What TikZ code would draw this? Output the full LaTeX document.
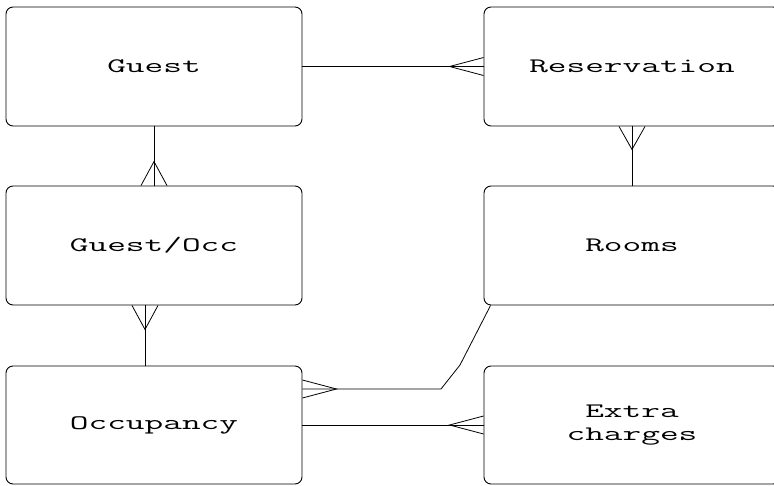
\documentclass[tikz,border=0pt]{standalone}
\usepackage{fontspec}
\newfontfamily\boxfont[FakeStretch=1.76]{Latin Modern Mono}
\begin{document}
\begin{tikzpicture}[x=1pt,y=-1pt,
  entity/.style={draw, rounded corners=7pt, line width=0.9pt, minimum width=296pt,
    minimum height=119pt, inner sep=0pt, align=center,
    font=\boxfont\fontsize{20.6}{23.3}\selectfont},
  rel/.style={line width=0.8pt}]
\clip (0,0) rectangle (774,485);
\fill[white] (0,0) rectangle (774,485);
\node[entity] (guest) at (154,66.5) {Guest};
\node[entity] (res) at (632,66.5) {Reservation};
\node[entity] (go) at (154,245.5) {Guest/Occ};
\node[entity] (rooms) at (632,245.5) {Rooms};
\node[entity, minimum height=118pt] (occ) at (154,425) {Occupancy};
\node[entity, minimum height=118pt] (ext) at (632,425) {Extra\\charges};
% Guest - Reservation
\draw[rel] (guest.east) -- (res.west);
\draw[rel] ([yshift=9pt]res.west) -- ([xshift=-34pt]res.west) -- ([yshift=-9pt]res.west);
% Guest - Guest/Occ
\draw[rel] (guest.south) -- (go.north);
\draw[rel] ([xshift=-13pt]go.north) -- ([yshift=24pt]go.north) -- ([xshift=13pt]go.north);
% Guest/Occ - Occupancy
\draw[rel] ([xshift=-9pt]go.south) -- ([xshift=-9pt]occ.north);
\draw[rel] ([xshift=-22pt]go.south) -- ([xshift=-9pt,yshift=-24pt]go.south) -- ([xshift=4pt]go.south);
% Reservation - Rooms
\draw[rel] (res.south) -- (rooms.north);
\draw[rel] ([xshift=-13pt]res.south) -- ([yshift=-23pt]res.south) -- ([xshift=13pt]res.south);
% Rooms - Occupancy
\coordinate (b1) at (460,365);
\coordinate (b2) at (441,389);
\draw[rel] ([xshift=7pt]rooms.south west) -- (b1) -- (b2) -- ([yshift=36pt]occ.east);
\draw[rel] ([yshift=45pt]occ.east) -- ([xshift=34pt,yshift=36pt]occ.east) -- ([yshift=27pt]occ.east);
% Occupancy - Extra charges
\draw[rel] (occ.east) -- (ext.west);
\draw[rel] ([yshift=9pt]ext.west) -- ([xshift=-34pt]ext.west) -- ([yshift=-9pt]ext.west);
\end{tikzpicture}
\end{document}
